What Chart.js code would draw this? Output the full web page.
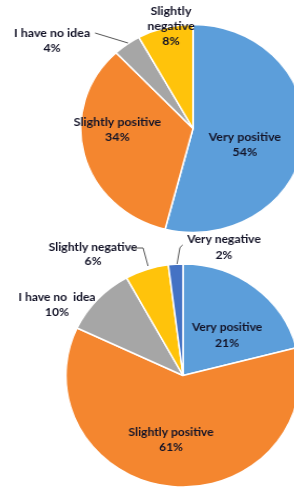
<!DOCTYPE html>
<html>
<head>
<meta charset="utf-8">
<script src="https://cdn.jsdelivr.net/npm/chart.js@4/dist/chart.umd.min.js"></script>
<style>
  html, body { margin: 0; padding: 0; background: #ffffff; width: 294px; height: 488px; overflow: hidden; position: relative; }
  canvas { position: absolute; left: 0; }
  #c1 { top: 0; transform: scaleX(1.08); transform-origin: 193px 128.5px; }
  #c2 { top: 230px; transform: scaleX(1.05); transform-origin: 183px 145.5px; }
</style>
</head>
<body>
<canvas id="c1" width="300" height="245"></canvas>
<canvas id="c2" width="300" height="258"></canvas>
<script>
// ---- data ----
const categories1 = ['Very positive', 'Slightly positive', 'I have no idea', 'Slightly negative'];
const values1 = [54, 34, 4, 8];
const colors1 = ['#5C9EDA', '#F4862F', '#A6A6A6', '#FFC30B'];

const categories2 = ['Very positive', 'Slightly positive', 'I have no  idea', 'Slightly negative', 'Very negative'];
const values2 = [21, 61, 10, 6, 2];
const colors2 = ['#5C9EDA', '#F4862F', '#A6A6A6', '#FFC30B', '#4472C4'];

// ---- label layout (offsets from pie centre, canvas px) ----
const layout1 = [
  { dx: 48, dy: 8.5, lh: 15 },
  { dx: -70, dy: -6.5, lh: 15 },
  { dx: -130.5, dy: -95.5, lh: 15, leader: [[-90.7, -95.5], [-60.2, -85.5]] },
  { dx: -20.4, dy: -117.5, lh: 15, wrap: true }
];
const layout2 = [
  { dx: 42, dy: -48.5, lh: 16 },
  { dx: -11.4, dy: 56.5, lh: 15 },
  { dx: -120, dy: -78.5, lh: 15 },
  { dx: -85.7, dy: -128.5, lh: 14, leader: [[-47.6, -127.5], [-38, -127.5], [-33.3, -109.5]] },
  { dx: 39, dy: -136.5, lh: 16, leader: [[-0.3, -130.5], [-2.9, -128], [-5.7, -111.5]] }
];

const labelPlugin = {
  id: 'pieLabels',
  afterDatasetsDraw(chart, args, opts) {
    const ctx = chart.ctx;
    const meta = chart.getDatasetMeta(0);
    const arc0 = meta.data[0];
    const cx = arc0.x, cy = arc0.y;
    const cats = chart.data.labels;
    const vals = chart.data.datasets[0].data;
    ctx.save();
    ctx.font = 'bold 11.5px Lato, "Open Sans", sans-serif';
    ctx.fillStyle = '#141428';
    ctx.textAlign = 'center';
    ctx.textBaseline = 'middle';
    opts.layout.forEach((L, i) => {
      let lines = L.wrap ? cats[i].split(' ') : [cats[i]];
      lines = lines.concat([vals[i] + '%']);
      lines.forEach((t, k) => {
        ctx.fillText(t, cx + L.dx, cy + L.dy + k * L.lh);
      });
      if (L.leader) {
        ctx.beginPath();
        ctx.strokeStyle = '#555555';
        ctx.lineWidth = 1;
        L.leader.forEach((p, k) => {
          if (k === 0) ctx.moveTo(cx + p[0], cy + p[1]);
          else ctx.lineTo(cx + p[0], cy + p[1]);
        });
        ctx.stroke();
      }
    });
    ctx.restore();
  }
};

function makePie(id, cats, vals, cols, layout, radius, padding) {
  return new Chart(document.getElementById(id), {
    type: 'pie',
    data: {
      labels: cats,
      datasets: [{
        data: vals,
        backgroundColor: cols,
        borderColor: '#ffffff',
        borderWidth: 1.5
      }]
    },
    options: {
      responsive: false,
      animation: false,
      radius: radius,
      layout: { padding: padding },
      plugins: {
        legend: { display: false },
        tooltip: { enabled: false },
        pieLabels: { layout: layout }
      }
    },
    plugins: [labelPlugin]
  });
}

makePie('c1', categories1, values1, colors1, layout1, 104, { left: 89, top: 24, right: 3, bottom: 12 });
makePie('c2', categories2, values2, colors2, layout2, 111.5, { left: 71, top: 33.5, right: 5, bottom: 0.5 });
</script>
</body>
</html>
